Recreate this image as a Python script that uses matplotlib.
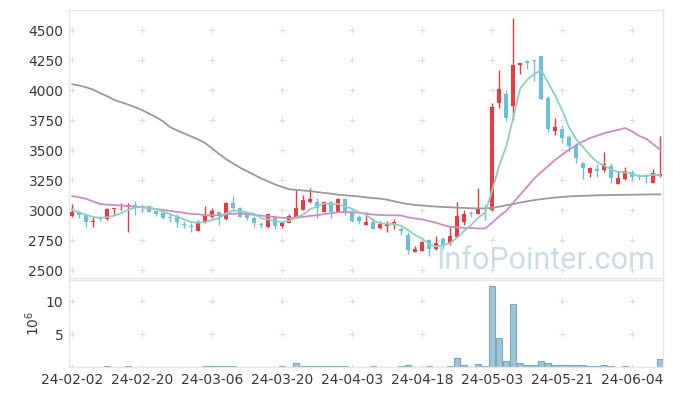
import numpy as np
import matplotlib.pyplot as plt
from matplotlib import font_manager

# 일봉 시가/고가/저가/종가 (2024-02-02 ~ 2024-06-11, 85 거래일)
open_ = [2955, 2985, 2961, 2905, 2936, 2925, 3008, 3016, 3028, 3044,
         3036, 3036, 2994, 2980, 2942, 2950, 2886, 2869, 2830, 2905,
         2947, 2983, 2928, 3061, 3016, 2969, 2939, 2883, 2858, 2947,
         2872, 2897, 2939, 3003, 3067, 3072, 2989, 3072, 2989, 3092,
         2989, 2947, 2878, 2905, 2855, 2872, 2883, 2841, 2794, 2655,
         2664, 2750, 2678, 2758, 2725, 2780, 2905, 2975, 2969, 3016,
         3002, 3897, 3969, 3869, 4211, 4247, 4253, 4286, 3939, 3664,
         3677, 3614, 3544, 3397, 3308, 3344, 3336, 3369, 3219, 3258,
         3319, 3297, 3294, 3230, 3286]
high = [3055, 2995, 2969, 2947, 2952, 3016, 3019, 3058, 3058, 3078,
        3050, 3044, 3003, 2989, 2969, 2966, 2911, 2897, 2916, 3039,
        3016, 2994, 3066, 3122, 3030, 2989, 2953, 2905, 2975, 2961,
        2908, 2966, 3175, 3128, 3183, 3100, 3078, 3078, 3100, 3100,
        3003, 2961, 2989, 2933, 2911, 2914, 2925, 2864, 2822, 2705,
        2744, 2761, 2789, 2780, 2858, 3072, 3002, 2997, 3183, 3052,
        3891, 4169, 4003, 4600, 4230, 4252, 4253, 4286, 3952, 3766,
        3708, 3630, 3558, 3405, 3360, 3386, 3486, 3391, 3330, 3363,
        3336, 3305, 3300, 3344, 3619]
low = [2945, 2935, 2858, 2864, 2914, 2919, 2961, 3003, 2822, 2961,
       2989, 2983, 2955, 2925, 2905, 2864, 2855, 2816, 2830, 2891,
       2933, 2878, 2919, 3003, 2941, 2919, 2858, 2855, 2855, 2844,
       2850, 2891, 2933, 2999, 3061, 2933, 2983, 2933, 2983, 2961,
       2905, 2886, 2878, 2844, 2844, 2816, 2844, 2794, 2636, 2650,
       2660, 2619, 2672, 2680, 2711, 2775, 2877, 2947, 2969, 2919,
       2994, 3850, 3747, 3753, 4133, 4175, 4080, 3919, 3655, 3627,
       3558, 3483, 3391, 3258, 3275, 3280, 3316, 3230, 3216, 3252,
       3252, 3255, 3225, 3225, 3280]
close = [2986, 2958, 2905, 2914, 2925, 3011, 3019, 3022, 3044, 3030,
         3016, 2989, 2969, 2933, 2933, 2905, 2878, 2861, 2905, 2961,
         2994, 2955, 3061, 3016, 2947, 2933, 2897, 2875, 2966, 2872,
         2897, 2953, 3016, 3086, 3094, 3016, 3072, 2989, 3092, 2994,
         2914, 2914, 2903, 2847, 2883, 2889, 2905, 2828, 2669, 2678,
         2739, 2678, 2730, 2711, 2786, 2952, 2969, 2970, 3016, 3008,
         3864, 4008, 3766, 4211, 4230, 4225, 4247, 3927, 3677, 3697,
         3605, 3536, 3439, 3355, 3352, 3330, 3386, 3266, 3269, 3327,
         3280, 3280, 3280, 3314, 3302]
# 거래량 (백만 주)
volume = [0.03, 0.03, 0.03, 0.03, 0.03, 0.13, 0.03, 0.03, 0.13, 0.03,
          0.03, 0.03, 0.03, 0.03, 0.03, 0.03, 0.03, 0.03, 0.03, 0.13,
          0.13, 0.13, 0.13, 0.13, 0.03, 0.03, 0.03, 0.03, 0.03, 0.03,
          0.13, 0.03, 0.56, 0.13, 0.13, 0.13, 0.13, 0.13, 0.13, 0.13,
          0.03, 0.03, 0.03, 0.13, 0.03, 0.03, 0.03, 0.13, 0.25, 0.03,
          0.03, 0.13, 0.03, 0.03, 0.13, 1.43, 0.25, 0.03, 0.51, 0.13,
          12.28, 4.47, 0.86, 9.49, 0.56, 0.25, 0.25, 0.86, 0.56, 0.25,
          0.25, 0.25, 0.25, 0.25, 0.13, 0.13, 0.25, 0.13, 0.03, 0.13,
          0.03, 0.03, 0.03, 0.03, 1.27]

# 이동평균 앞부분 (이전 데이터가 없어 그림에서 읽은 값)
ma5_head = [3003, 2983, 2961, 2945]
ma20_head = [3119, 3108, 3095, 3072, 3052, 3047, 3044, 3040, 3036, 3030,
             3025, 3018, 3010, 3003, 2995, 2987, 2978, 2970, 2967]
# 장기 이동평균
ma_long = [4050, 4040, 4025, 4005, 3975, 3950, 3920, 3900, 3880, 3858,
           3834, 3805, 3775, 3740, 3692, 3665, 3640, 3615, 3590, 3560,
           3515, 3468, 3425, 3390, 3355, 3325, 3295, 3265, 3240, 3215,
           3195, 3175, 3170, 3165, 3160, 3152, 3145, 3138, 3130, 3125,
           3120, 3115, 3108, 3102, 3097, 3088, 3075, 3062, 3052, 3045,
           3040, 3035, 3031, 3028, 3025, 3022, 3020, 3017, 3016, 3016,
           3020, 3030, 3042, 3052, 3065, 3075, 3085, 3093, 3100, 3106,
           3111, 3116, 3119, 3121, 3123, 3125, 3126, 3127, 3128, 3129,
           3130, 3131, 3132, 3133, 3133]

tick_labels = ['24-02-02', '24-02-20', '24-03-06', '24-03-20', '24-04-03',
               '24-04-18', '24-05-03', '24-05-21', '24-06-04']
price_ticks = [2500, 2750, 3000, 3250, 3500, 3750, 4000, 4250, 4500]
volume_ticks = [5, 10]


def rolling_mean(values, n, head):
    out = list(head)
    for i in range(len(head), len(values)):
        out.append(np.mean(values[i - n + 1:i + 1]))
    return out


o = np.array(open_, float)
h = np.array(high, float)
l = np.array(low, float)
c = np.array(close, float)
x = np.arange(len(c))
ma5 = rolling_mean(close, 5, ma5_head)
ma20 = rolling_mean(close, 20, ma20_head)

RED = '#ec3a40'
BLUE = '#6cc1d8'
GRID = '#dedede'
SPINE = '#e6e6e6'
TXT = '#3a3a3a'

W, H = 673, 396
fig = plt.figure(figsize=(W / 100, H / 100), dpi=100)
ax = fig.add_axes([69 / W, 1 - 278 / H, 594 / W, 268 / H])
axv = fig.add_axes([69 / W, 1 - 367 / H, 594 / W, 87 / H])

# 워터마크
names = {f.name for f in font_manager.fontManager.ttflist}
if 'Liberation Sans Narrow' in names:
    wm_font, wm_size = 'Liberation Sans Narrow', 27
else:
    wm_font, wm_size = 'Roboto', 22
ax.text(436 / W, 1 - 269 / H, 'InfoPointer.com', transform=fig.transFigure,
        fontsize=wm_size, family=wm_font, color='#cbdce7', ha='left',
        va='baseline', zorder=0)

# 격자 대신 + 표시
xt = np.arange(0, 81, 10)
gx, gy = np.meshgrid(xt, price_ticks)
ax.plot(gx.ravel(), gy.ravel(), '+', color=GRID, ms=4, mew=0.8, zorder=0.5)
gx, gy = np.meshgrid(xt, [0] + volume_ticks)
axv.plot(gx.ravel(), gy.ravel(), '+', color=GRID, ms=4, mew=0.8, zorder=0.5)

# 캔들
up = c >= o
colors = np.where(up, RED, BLUE)
ax.vlines(x, l, h, color=colors, lw=1, zorder=2)
bottom = np.minimum(o, c)
height = np.maximum(np.abs(c - o), 6)
ax.bar(x, height, 0.62, bottom=bottom, color=colors, lw=0, zorder=3)

# 이동평균선
ax.plot(x, ma_long, color='#9a9a9a', lw=1.3, zorder=4)
ax.plot(x, ma20, color='#cc8cc6', lw=1.3, zorder=4)
ax.plot(x, ma5, color='#8fcfc3', lw=1.3, zorder=4)

ax.set_xlim(-0.47, 84.4)
ax.set_ylim(2436, 4669)
ax.set_yticks(price_ticks)
ax.set_xticks([])

# 거래량
axv.bar(x, volume, 0.9, color='#9ec4d5', edgecolor='#7aa7c0', lw=0.8, zorder=2)
axv.set_xlim(-0.47, 84.4)
axv.set_ylim(0, 13.2)
axv.set_yticks(volume_ticks)
axv.set_xticks(xt)
axv.set_xticklabels(tick_labels)
axv.set_ylabel(r'$10^6$', fontsize=10, color=TXT, labelpad=3)

for a in (ax, axv):
    a.tick_params(length=0, labelsize=10, colors=TXT, pad=4)
    for s in a.spines.values():
        s.set_color(SPINE)
        s.set_linewidth(1)

fig.savefig('out.png', dpi=100)
